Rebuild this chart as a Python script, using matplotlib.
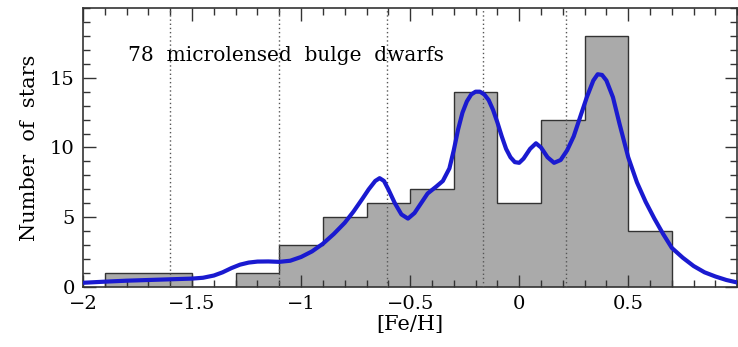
import numpy as np
import matplotlib.pyplot as plt
from matplotlib.ticker import MultipleLocator

# histogram of [Fe/H], bins of 0.2 dex
bin_edges = [-1.9, -1.7, -1.5, -1.3, -1.1, -0.9, -0.7, -0.5, -0.3, -0.1, 0.1, 0.3, 0.5, 0.7]
counts = [1, 1, 0, 1, 3, 5, 6, 7, 14, 6, 12, 18, 4]

# smoothed distribution
curve_x = [-2.0, -1.9, -1.8, -1.7, -1.6, -1.5, -1.45, -1.40, -1.36, -1.32, -1.28, -1.24,
           -1.20, -1.15, -1.10, -1.05, -1.0, -0.95, -0.90, -0.85, -0.80, -0.76, -0.72,
           -0.69, -0.66, -0.64, -0.62, -0.60, -0.57, -0.54, -0.51, -0.48, -0.45, -0.42,
           -0.38, -0.35, -0.32, -0.30, -0.28, -0.26, -0.24, -0.22, -0.20, -0.18, -0.16,
           -0.14, -0.12, -0.10, -0.08, -0.06, -0.04, -0.02, 0.0, 0.02, 0.05, 0.077, 0.10,
           0.13, 0.16, 0.19, 0.22, 0.25, 0.28, 0.31, 0.34, 0.36, 0.38, 0.40, 0.43, 0.46,
           0.50, 0.54, 0.58, 0.62, 0.66, 0.70, 0.75, 0.80, 0.85, 0.90, 0.95, 1.0]
curve_y = [0.30, 0.38, 0.45, 0.50, 0.55, 0.60, 0.66, 0.82, 1.05, 1.35, 1.60, 1.75,
           1.82, 1.83, 1.80, 1.88, 2.15, 2.55, 3.10, 3.80, 4.60, 5.40, 6.30,
           7.00, 7.60, 7.80, 7.60, 7.00, 6.00, 5.20, 4.90, 5.30, 6.00, 6.70,
           7.20, 7.60, 8.50, 9.80, 11.3, 12.5, 13.3, 13.8, 14.0, 14.0, 13.8,
           13.4, 12.7, 11.8, 10.8, 9.90, 9.30, 8.95, 8.90, 9.20, 9.90, 10.3, 10.0,
           9.30, 8.90, 9.10, 9.80, 10.8, 12.2, 13.6, 14.8, 15.25, 15.2, 14.8, 13.6, 11.7,
           9.30, 7.50, 6.10, 4.90, 3.80, 2.80, 2.10, 1.50, 1.05, 0.75, 0.50, 0.32]

# dotted division lines
div_lines = [-1.6, -1.1, -0.605, -0.168, 0.214]

serif = "DejaVu Serif"

fig = plt.figure(figsize=(7.38, 3.47), dpi=100)
ax = fig.add_axes([0.1125, 0.173, 0.8865, 0.804])

ax.stairs(counts, bin_edges, fill=True, color="#aaaaaa", zorder=1)
ax.stairs(counts, bin_edges, baseline=0, color="#333333", linewidth=1.0, zorder=2)

for xv in div_lines:
    ax.axvline(xv, color="#555555", linestyle=(0, (1, 2)), linewidth=1.0, zorder=3)

ax.plot(curve_x, curve_y, color="#1a1ad0", linewidth=3, zorder=4,
        solid_joinstyle="round", solid_capstyle="round")

ax.text(-1.795, 16.6, "78  microlensed  bulge  dwarfs", fontsize=14.5,
        family=serif, va="center", ha="left")

ax.set_xlim(-2, 1)
ax.set_ylim(0, 20)
ax.xaxis.set_major_locator(MultipleLocator(0.5))
ax.xaxis.set_minor_locator(MultipleLocator(0.1))
ax.yaxis.set_major_locator(MultipleLocator(5))
ax.yaxis.set_minor_locator(MultipleLocator(1))
ax.tick_params(which="both", direction="in", top=True, right=True, width=1.0, color="#333333")
ax.tick_params(which="major", length=9, labelsize=14, pad=6)
ax.tick_params(which="minor", length=5)

ax.set_xticks([-2, -1.5, -1, -0.5, 0, 0.5])
ax.set_xticklabels(["\u22122", "\u22121.5", "\u22121", "\u22120.5", "0", "0.5"], family=serif)
ax.set_yticks([0, 5, 10, 15])
ax.set_yticklabels(["0", "5", "10", "15"], family=serif)

for s in ax.spines.values():
    s.set_linewidth(1.2)
    s.set_color("#333333")

ax.set_xlabel("[Fe/H]", fontsize=15, family=serif, labelpad=1)
ax.set_ylabel("Number  of  stars", fontsize=15, family=serif, labelpad=8)

fig.savefig("out.png", dpi=100)
